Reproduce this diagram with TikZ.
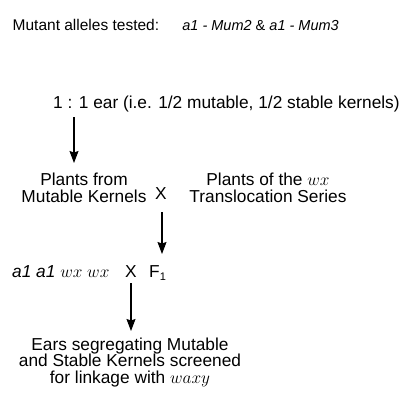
\documentclass[tikz,border=0pt]{standalone}
\usepackage{fontspec}
\setmainfont{Liberation Sans}
\usetikzlibrary{arrows.meta}
\begin{document}
\begin{tikzpicture}[x=1pt,y=-1pt,
  txt/.style={inner sep=0pt, font=\fontsize{17.3}{16.5}\selectfont},
  stack/.style={txt, align=center, anchor=base},
  arr/.style={line width=1.1pt, -{Stealth[length=12pt,width=9pt,inset=1.5pt]}}]
\useasboundingbox (0,0) rectangle (408,392);
\node[txt, anchor=base west, font=\fontsize{15.5}{15.5}\selectfont] (title) at (12.5,30)
  {Mutant alleles tested:\hspace{1.5em}{\fontsize{14.5}{15}\selectfont\textit{a1 - Mum2} \& \textit{a1 - Mum3}}};
\node[txt, anchor=base west] (ratio) at (53,108) {1 : 1 ear (i.e. 1/2 mutable, 1/2 stable kernels)};
\node[stack] (mut) at (84,202) {Plants from\\Mutable Kernels};
\node[txt, anchor=base] (x1) at (161,199) {X};
\node[stack] (trans) at (268,202) {Plants of the $wx$\\Translocation Series};
\node[txt, anchor=base west] (a1wx) at (12,277) {\textit{a1 a1} $wx\;wx$};
\node[txt, anchor=base] (x2) at (131,277) {X};
\node[txt, anchor=base west] (f1) at (149,277) {F\raisebox{-0.22em}{\fontsize{11}{11}\selectfont 1}};
\node[stack] (ears) at (130,383) {Ears segregating Mutable\\and Stable Kernels screened\\for linkage with $waxy$};
\coordinate (s1) at (74,117);
\coordinate (e1) at (74,163);
\coordinate (s2) at (162,212);
\coordinate (e2) at (162,254);
\coordinate (s3) at (131,283);
\coordinate (e3) at (131,331);
\draw[arr] (s1) -- (e1);
\draw[arr] (s2) -- (e2);
\draw[arr] (s3) -- (e3);
\end{tikzpicture}
\end{document}
